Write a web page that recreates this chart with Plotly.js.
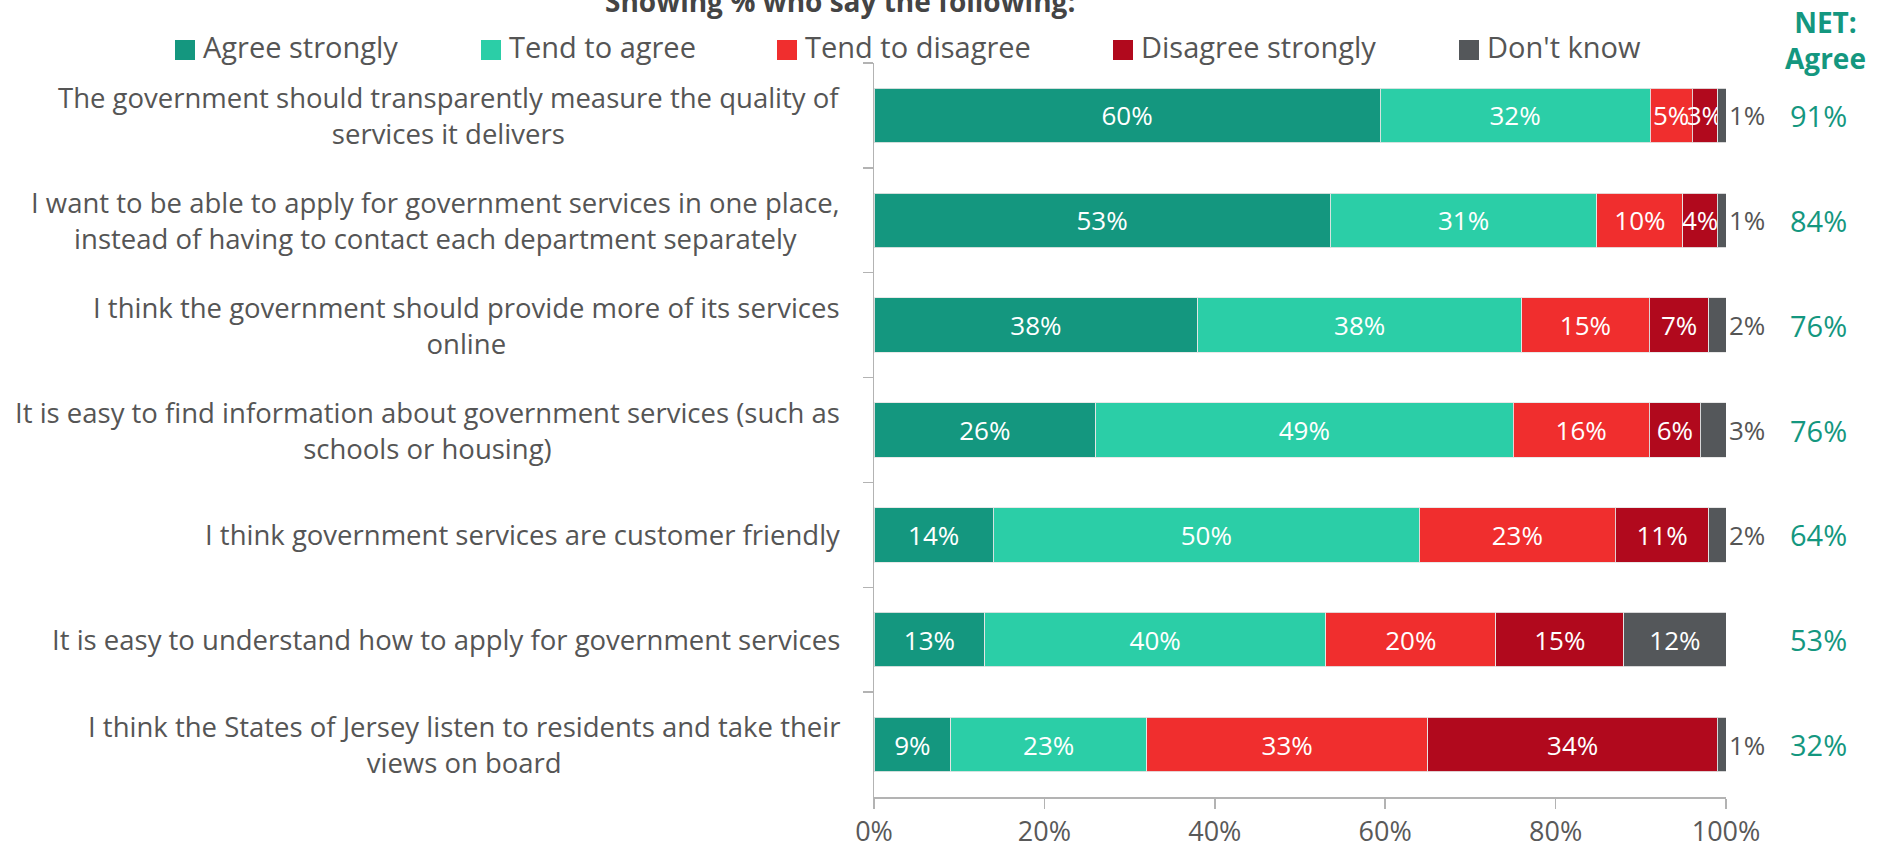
<!DOCTYPE html>
<html><head><meta charset="utf-8">
<script src="https://cdn.plot.ly/plotly-3.0.1.min.js"></script>
<style>html,body{margin:0;padding:0;background:#fff}#chart{width:1877px;height:851px}</style>
</head><body><div id="chart"></div>
<script>
const categories = [
  "The government should transparently measure the quality of<br>services it delivers",
  "I want to be able to apply for government services in one place,<br>instead of having to contact each department separately",
  "I think the government should provide more of its services<br>online",
  "It is easy to find information about government services (such as<br>schools or housing)",
  "I think government services are customer friendly",
  "It is easy to understand how to apply for government services",
  "I think the States of Jersey listen to residents and take their<br>views on board"
];
const seriesNames = ["Agree strongly", "Tend to agree", "Tend to disagree", "Disagree strongly", "Don't know"];
const agreeStrongly    = [60, 53, 38, 26, 14, 13, 9];
const tendToAgree      = [32, 31, 38, 49, 50, 40, 23];
const tendToDisagree   = [5, 10, 15, 16, 23, 20, 33];
const disagreeStrongly = [3, 4, 7, 6, 11, 15, 34];
const dontKnow         = [1, 1, 2, 3, 2, 12, 1];
const netAgree         = [91, 84, 76, 76, 64, 53, 32];
const netHeader = "NET:<br>Agree";
const chartTitle = "Showing % who say the following:";
const xTickVals = [0, 20, 40, 60, 80, 100];
const xTickText = ["0%", "20%", "40%", "60%", "80%", "100%"];

const colors = ["#14977f", "#2bcea7", "#f02e2e", "#b1091d", "#54575a"];
const FONT = "Open Sans, sans-serif";
const W = 1877, H = 851;
const M = {l: 874, r: 151, t: 63, b: 54};
const pw = W - M.l - M.r, ph = H - M.t - M.b;
const px2x = p => (p - M.l) / pw;
const py2y = p => (H - M.b - p) / ph;

const seriesValues = [agreeStrongly, tendToAgree, tendToDisagree, disagreeStrongly, dontKnow];
const traces = seriesValues.map((vals, i) => {
  const last = i === seriesValues.length - 1;
  return {
    type: 'bar', orientation: 'h', name: seriesNames[i],
    y: categories, x: vals,
    text: vals.map(v => v + '%'), texttemplate: '%{text}',
    textposition: last ? vals.map(v => v >= 5 ? 'inside' : 'outside') : 'inside',
    insidetextanchor: 'middle', textangle: 0, constraintext: 'none',
    insidetextfont: {family: FONT, size: 26, color: '#ffffff'},
    outsidetextfont: {family: FONT, size: 26, color: '#555555'},
    cliponaxis: false,
    marker: {color: colors[i], line: {color: 'rgba(230,230,230,0.9)', width: 1}},
    showlegend: false, hoverinfo: 'skip'
  };
});

const annotations = [];
// title (partly cut off at top, as in the original)
annotations.push({xref: 'paper', yref: 'paper', x: px2x(840), y: py2y(1), xanchor: 'center', yanchor: 'middle',
  text: '<b>' + chartTitle + '</b>', showarrow: false, font: {family: FONT, size: 28, color: '#444'}});
// category labels
categories.forEach(c => annotations.push({xref: 'paper', yref: 'y', x: 0, xshift: -32, y: c, xanchor: 'right', yanchor: 'middle',
  align: 'center', text: c, showarrow: false, font: {family: FONT, size: 27.5, color: '#555555'}}));
// NET values
netAgree.forEach((v, i) => annotations.push({xref: 'paper', yref: 'y', x: px2x(1818), y: categories[i], xanchor: 'center', yanchor: 'middle',
  text: v + '%', showarrow: false, font: {family: FONT, size: 29, color: '#14977f'}}));
annotations.push({xref: 'paper', yref: 'paper', x: px2x(1825), y: py2y(40), xanchor: 'center', yanchor: 'middle',
  text: '<b>' + netHeader + '</b>', showarrow: false, font: {family: FONT, size: 28, color: '#14977f'}});
// legend
const legendSquares = [175, 481, 777, 1113, 1459];
const shapes = [];
seriesNames.forEach((n, i) => {
  const sx = legendSquares[i];
  shapes.push({type: 'rect', xref: 'paper', yref: 'paper', x0: px2x(sx), x1: px2x(sx + 20), y0: py2y(60), y1: py2y(40),
    fillcolor: colors[i], line: {width: 0}});
  annotations.push({xref: 'paper', yref: 'paper', x: px2x(sx + 26), y: py2y(47), xanchor: 'left', yanchor: 'middle',
    text: n, showarrow: false, font: {family: FONT, size: 29, color: '#555555'}});
});

const layout = {
  width: W, height: H,
  margin: M,
  paper_bgcolor: '#fff', plot_bgcolor: '#fff',
  barmode: 'stack', barnorm: 'percent', bargap: 0.48,
  font: {family: FONT, color: '#555'},
  xaxis: {range: [0, 100], tickvals: xTickVals, ticktext: xTickText, showgrid: false, zeroline: false,
    showline: true, linecolor: '#b3b3b3', linewidth: 2, ticks: 'outside', ticklen: 10, tickcolor: '#b3b3b3', tickwidth: 1.5,
    tickfont: {family: FONT, size: 27, color: '#595959'}, fixedrange: true},
  yaxis: {type: 'category', categoryorder: 'array', categoryarray: categories, autorange: 'reversed',
    showticklabels: false, showgrid: false, zeroline: false, showline: true, linecolor: '#b3b3b3', linewidth: 1.5,
    ticks: 'outside', tickson: 'boundaries', ticklen: 10, tickcolor: '#b3b3b3', tickwidth: 1.5},
  annotations: annotations,
  shapes: shapes,
  showlegend: false
};

Plotly.newPlot('chart', traces, layout, {displayModeBar: false, staticPlot: true});
</script>
</body></html>
